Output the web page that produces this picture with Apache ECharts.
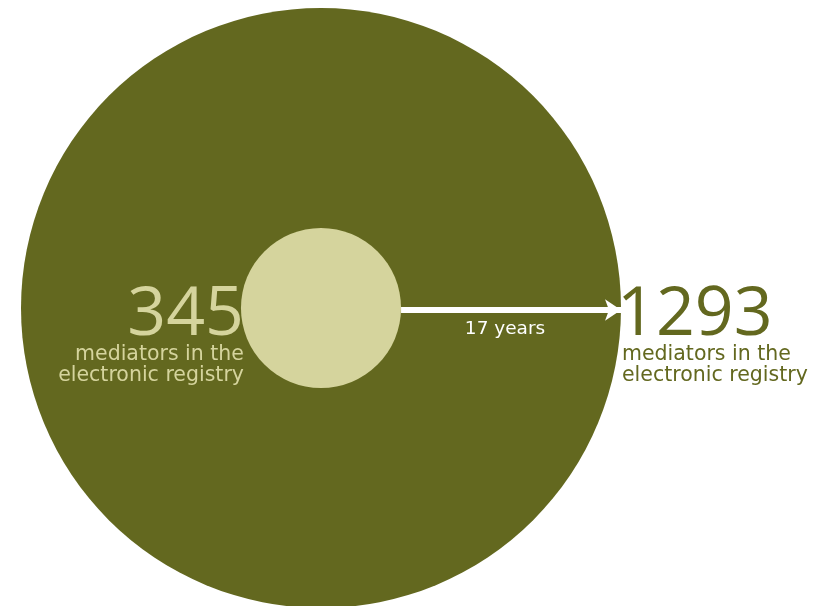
<!DOCTYPE html>
<html><head><meta charset="utf-8">
<script src="https://cdn.jsdelivr.net/npm/echarts@6/dist/echarts.min.js"></script>
<style>html,body{margin:0;padding:0;background:#fff}#c{width:822px;height:606px}</style>
</head><body><div id="c"></div>
<script>
// Data
const labels = ['345', '1293'];
const values = [345, 1293];
const caption = ['mediators in the', 'electronic registry'];
const period = '17 years';

// Layout
const cx = 321, cy = 308;
const pxPerUnit = 300 / 1293; // radius scale
const olive = '#63681F', pale = '#D5D49D';
const NUMFONT = 'Open Sans';
const FONT = 'DejaVu Sans';

const rSmall = values[0] * pxPerUnit;
const rBig = values[1] * pxPerUnit;

function richFor(color, align, subPad) {
  return {
    num: { fontSize: 68, lineHeight: 68, color: color, fontFamily: NUMFONT, align: align, padding: [0, 0, -11, 0] },
    sub: { fontSize: 20.5, lineHeight: 20.5, color: color, fontFamily: FONT, align: align, padding: subPad }
  };
}
function fmt(i) {
  return '{num|' + labels[i] + '}\n{sub|' + caption[0] + '}\n{sub|' + caption[1] + '}';
}

const chart = echarts.init(document.getElementById('c'));
chart.setOption({
  animation: false,
  grid: { left: 0, right: 0, top: 0, bottom: 0 },
  xAxis: { type: 'value', min: 0, max: 822, show: false },
  yAxis: { type: 'value', min: 0, max: 606, inverse: true, show: false },
  series: [
    {
      type: 'scatter', clip: false, z: 1,
      symbolSize: d => d[2] * pxPerUnit * 2,
      itemStyle: { color: olive, opacity: 1 },
      data: [[cx, cy, values[1]]],
      label: {
        show: true, position: 'right', distance: -4, offset: [0, 23],
        align: 'left', formatter: () => fmt(1), rich: richFor(olive, 'left', [0, 0, 0, 5])
      }
    },
    {
      type: 'scatter', clip: false, z: 2,
      symbolSize: d => d[2] * pxPerUnit * 2,
      itemStyle: { color: pale, opacity: 1 },
      data: [[cx, cy, values[0]]],
      label: {
        show: true, position: 'left', distance: -3, offset: [0, 23],
        align: 'right', formatter: () => fmt(0), rich: richFor(pale, 'right', [0, 0, 0, 0])
      }
    },
    {
      type: 'lines', coordinateSystem: 'cartesian2d', z: 3,
      symbol: ['none', 'arrow'], symbolSize: 16,
      lineStyle: { color: '#ffffff', width: 6, opacity: 1 },
      label: {
        show: true, position: 'insideMiddleBottom', distance: 10, offset: [-6, 0],
        formatter: period, color: '#ffffff', fontSize: 18.5, fontFamily: FONT
      },
      data: [{ coords: [[cx + rSmall, cy + 2], [cx + rBig, cy + 2]] }]
    }
  ]
});
</script></body></html>
